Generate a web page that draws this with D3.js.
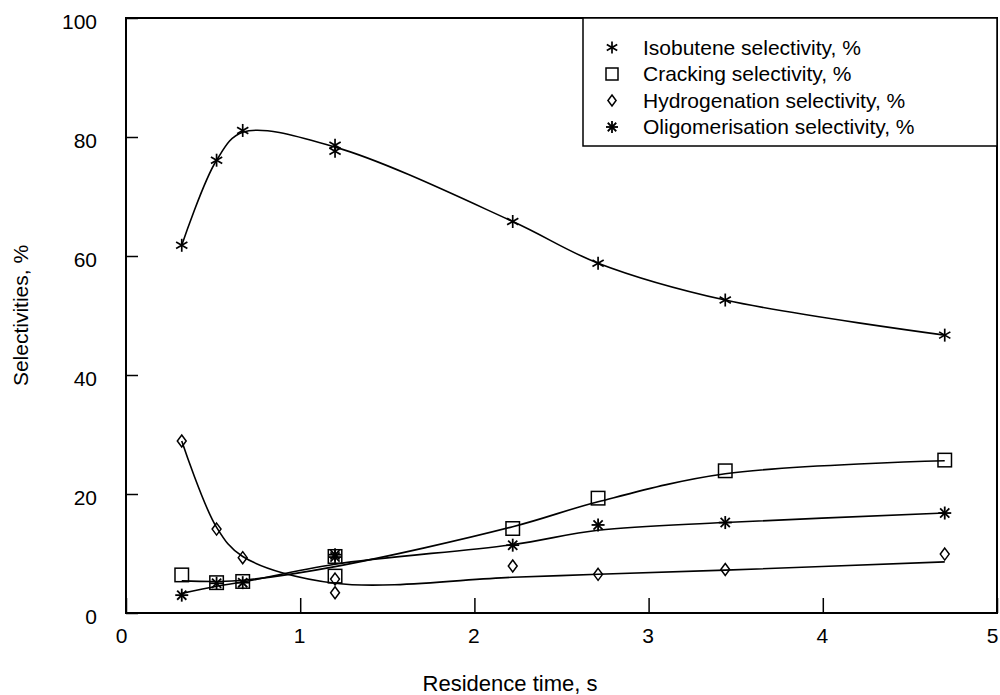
<!DOCTYPE html>
<html>
<head>
<meta charset="utf-8">
<script src="https://cdn.jsdelivr.net/npm/d3@7/dist/d3.min.js"></script>
<style>
  html, body { margin: 0; padding: 0; background: #fff; }
  svg { display: block; }
  text { font-family: "Liberation Sans", Arial, sans-serif; fill: #000; }
</style>
</head>
<body>
<svg id="chart" width="1000" height="695"></svg>
<script>
// Residence time of each run (s); the 1.2 s run was repeated
const residenceTime = [0.32, 0.52, 0.67, 1.2, 1.2, 2.22, 2.71, 3.44, 4.70];

// Measured selectivities (%)
const isobutene      = [61.8, 76.1, 81.1, 78.6, 77.6, 65.8, 58.8, 52.6, 46.7];
const cracking       = [6.4, 5.1, 5.3, 9.5, 6.2, 14.2, 19.3, 23.9, 25.7];
const hydrogenation  = [28.9, 14.1, 9.3, 5.7, 3.4, 7.9, 6.5, 7.3, 9.9];
const oligomerisation = [3.0, 5.0, 5.1, 9.8, 9.4, 11.4, 14.8, 15.2, 16.8];

// Smoothed trend curves
const fitTime = [0.32, 0.52, 0.67, 1.2, 2.22, 2.71, 3.44, 4.70];
const isobuteneFit       = [61.8, 76.1, 80.8, 78.3, 65.8, 58.8, 52.6, 46.7];
const crackingFit        = [5.4, 5.3, 5.5, 7.8, 14.5, 18.7, 23.4, 25.6];
const hydrogenationFit   = [28.9, 14.4, 9.5, 5.0, 6.0, 6.5, 7.2, 8.6];
const oligomerisationFit = [3.3, 4.5, 5.2, 8.2, 11.5, 13.9, 15.2, 16.8];

const xTicks = [0, 1, 2, 3, 4, 5];
const yTicks = [0, 20, 40, 60, 80, 100];

const seriesNames = [
  "Isobutene selectivity, %",
  "Cracking selectivity, %",
  "Hydrogenation selectivity, %",
  "Oligomerisation selectivity, %"
];
const seriesMarkers = ["asterisk", "square", "diamond", "star"];

const svg = d3.select("#chart");
const margin = { left: 126, right: 3, top: 18, bottom: 82 };
const W = 1000, H = 695;

const x = d3.scaleLinear().domain([0, 5]).range([margin.left, W - margin.right]);
const y = d3.scaleLinear().domain([0, 100]).range([H - margin.bottom, margin.top]);

// Marker shapes
function drawMarker(g, type, cx, cy, s) {
  const m = g.append("g").attr("transform", `translate(${cx},${cy})`)
    .attr("stroke", "#000").attr("fill", "none").attr("stroke-width", 1.5);
  if (type === "square") {
    m.append("rect").attr("x", -s / 2).attr("y", -s / 2).attr("width", s).attr("height", s);
  } else if (type === "diamond") {
    const w = s * 0.37, h = s * 0.5;
    m.append("path").attr("d", `M0,${-h}L${w},0L0,${h}L${-w},0Z`);
  } else if (type === "asterisk") {
    const r = s / 2;
    m.attr("stroke-width", 1.7);
    [90, 30, 150].forEach(a => {
      const t = a * Math.PI / 180;
      m.append("line").attr("x1", -r * Math.cos(t)).attr("y1", -r * Math.sin(t))
        .attr("x2", r * Math.cos(t)).attr("y2", r * Math.sin(t));
    });
  } else if (type === "star") {
    const r = s / 2;
    m.attr("stroke-width", 1.8);
    [0, 45, 90, 135].forEach(a => {
      const t = a * Math.PI / 180;
      m.append("line").attr("x1", -r * Math.cos(t)).attr("y1", -r * Math.sin(t))
        .attr("x2", r * Math.cos(t)).attr("y2", r * Math.sin(t));
    });
  }
}

// Axes with inward ticks
const yAxis = svg.append("g")
  .attr("transform", `translate(${margin.left},0)`)
  .call(d3.axisLeft(y).tickValues(yTicks).tickSize(-12).tickPadding(29).tickFormat(d3.format("d")));
yAxis.select(".domain").remove();
yAxis.selectAll("line").attr("stroke", "#000").attr("stroke-width", 1.5);
yAxis.selectAll("text").attr("font-size", 21).attr("dy", "0.52em")
  .style("font-family", '"Liberation Sans", Arial, sans-serif');

const xAxis = svg.append("g")
  .attr("transform", `translate(0,${H - margin.bottom})`)
  .call(d3.axisBottom(x).tickValues(xTicks).tickSize(-15).tickPadding(15).tickFormat(d3.format("d")));
xAxis.select(".domain").remove();
xAxis.selectAll("line").attr("stroke", "#000").attr("stroke-width", 1.5);
xAxis.selectAll("text").attr("font-size", 21)
  .style("font-family", '"Liberation Sans", Arial, sans-serif')
  .attr("dx", d => (d === 0 || d === 5) ? -5 : -1);

// Plot frame
svg.append("rect")
  .attr("x", x(0)).attr("y", y(100))
  .attr("width", x(5) - x(0)).attr("height", y(0) - y(100))
  .attr("fill", "none").attr("stroke", "#000").attr("stroke-width", 2);

// Axis titles
svg.append("text")
  .attr("x", 510).attr("y", 691)
  .attr("text-anchor", "middle").attr("font-size", 22)
  .text("Residence time, s");

svg.append("text")
  .attr("transform", `translate(28,${(y(0) + y(100)) / 2}) rotate(-90)`)
  .attr("text-anchor", "middle").attr("font-size", 21)
  .text("Selectivities, %");

// Trend curves
const line = d3.line()
  .x((d, i) => x(fitTime[i]))
  .y(d => y(d))
  .curve(d3.curveCatmullRom.alpha(0.5));

[isobuteneFit, crackingFit, hydrogenationFit, oligomerisationFit].forEach(fit => {
  svg.append("path").attr("d", line(fit))
    .attr("fill", "none").attr("stroke", "#000").attr("stroke-width", 1.6);
});

// Measured points
const pts = svg.append("g");
[isobutene, cracking, hydrogenation, oligomerisation].forEach((vals, k) => {
  const size = seriesMarkers[k] === "square" ? 13.5 : seriesMarkers[k] === "diamond" ? 12 : 13;
  vals.forEach((v, i) => drawMarker(pts, seriesMarkers[k], x(residenceTime[i]), y(v), size));
});

// Legend
const legend = svg.append("g");
legend.append("rect")
  .attr("x", 583).attr("y", margin.top)
  .attr("width", x(5) - 583).attr("height", 146 - margin.top)
  .attr("fill", "#fff").attr("stroke", "#000").attr("stroke-width", 1.5);
seriesNames.forEach((name, k) => {
  const cy = 47.5 + k * 26.5;
  const size = seriesMarkers[k] === "square" ? 12 : seriesMarkers[k] === "diamond" ? 11 : 12;
  drawMarker(legend, seriesMarkers[k], 612, cy, size);
  legend.append("text").attr("x", 643).attr("y", cy + 7)
    .attr("font-size", 21).text(name);
});
</script>
</body>
</html>
